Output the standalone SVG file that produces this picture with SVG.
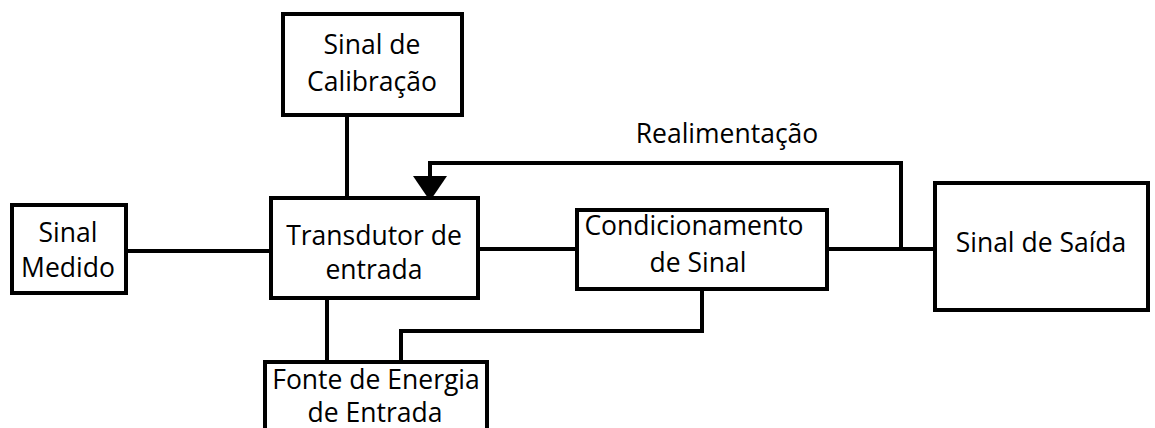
<svg xmlns="http://www.w3.org/2000/svg" width="1155" height="428" viewBox="0 0 1155 428">
<style>
.box{fill:#fff;stroke:#000;stroke-width:4}
.ln{fill:none;stroke:#000;stroke-width:4}
text{font-family:"Open Sans","Liberation Sans",sans-serif;font-size:26.5px;fill:#000;text-anchor:middle}
</style>
<rect width="1155" height="428" fill="#fff"/>
<g id="connectors">
<line class="ln" x1="347" y1="115" x2="347" y2="198"/>
<line class="ln" x1="126" y1="251" x2="271" y2="251"/>
<line class="ln" x1="478" y1="249" x2="577" y2="249"/>
<line class="ln" x1="827" y1="249" x2="935" y2="249"/>
<polyline class="ln" points="901,249 901,163 430,163 430,180"/>
<polygon points="413,176 447,176 430,201" fill="#000"/>
<line class="ln" x1="327" y1="298" x2="327" y2="362"/>
<polyline class="ln" points="702,289 702,331 401,331 401,362"/>
<text x="727" y="143">Realimentação</text>
</g>
<g id="calibracao">
<rect class="box" x="283" y="14" width="179" height="101"/>
<text x="372" y="54">Sinal de</text>
<text x="372" y="91">Calibração</text>
</g>
<g id="medido">
<rect class="box" x="12" y="205" width="114" height="88"/>
<text x="68" y="242">Sinal</text>
<text x="68" y="277">Medido</text>
</g>
<g id="transdutor">
<rect class="box" x="271" y="198" width="207" height="100"/>
<text x="374" y="245">Transdutor de</text>
<text x="374" y="279">entrada</text>
</g>
<g id="condicionamento">
<rect class="box" x="577" y="210" width="250" height="79"/>
<text x="694" y="235">Condicionamento</text>
<text x="698" y="272">de Sinal</text>
</g>
<g id="saida">
<rect class="box" x="935" y="183" width="213" height="127"/>
<text x="1041" y="252">Sinal de Saída</text>
</g>
<g id="fonte">
<rect class="box" x="265" y="362" width="222" height="80"/>
<text x="376" y="389">Fonte de Energia</text>
<text x="375" y="422">de Entrada</text>
</g>
</svg>
